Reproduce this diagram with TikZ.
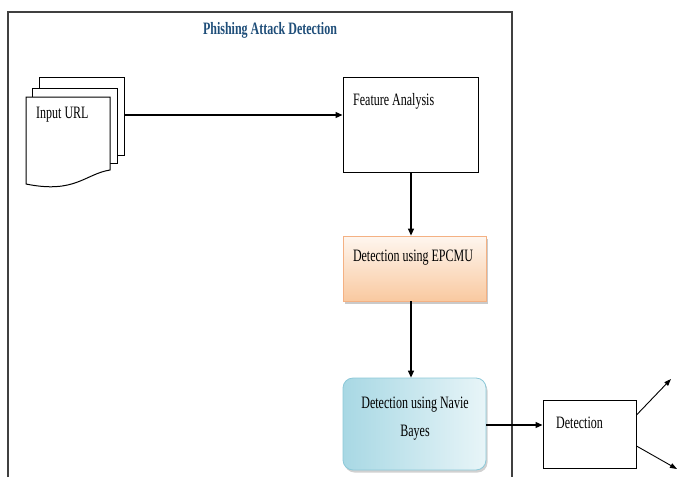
\documentclass[tikz,border=0pt]{standalone}
\usepackage{fontspec}
\setmainfont{Liberation Serif}
\usetikzlibrary{arrows.meta,shadows}
\definecolor{titleblue}{HTML}{1F4E79}
\definecolor{peachtop}{HTML}{FEF6EF}
\definecolor{peachbot}{HTML}{F9C9A0}
\definecolor{peachline}{HTML}{F4B183}
\definecolor{bluetop}{HTML}{E8F5F8}
\definecolor{bluebot}{HTML}{A8D8E4}
\definecolor{blueline}{HTML}{8CC8D8}
\newcommand{\tall}[1]{\scalebox{1}[1.45]{#1}}
\tikzset{
  plainbox/.style={draw=black, line width=1pt, fill=white, inner sep=0pt},
  arr/.style={-{Triangle[length=7pt,width=6pt]}, line width=1.2pt},
  thinarr/.style={-{Triangle[length=7pt,width=5pt]}, line width=0.9pt},
  txt/.style={font=\fontsize{12}{15}\selectfont, inner sep=0pt},
  docline/.style={draw=black, line width=1pt, fill=white}
}
\begin{document}
\begin{tikzpicture}[x=1pt,y=-1pt]
\useasboundingbox (0,0) rectangle (680,477);
% frame
\draw[line width=1.4pt, draw=black!75] (8,477) -- (8,12) -- (512,12) -- (512,477);
\node[txt, font=\fontsize{12}{14}\selectfont\bfseries, text=titleblue] (title) at (270,30) {\tall{Phishing Attack Detection}};
% document stack
\draw[docline] (39,88) -- (39,77) -- (124,77) -- (124,155) -- (117,155);
\draw[docline] (32,97) -- (32,88) -- (117,88) -- (117,163) -- (110,163);
\draw[docline] (26,97) -- (110,97) -- (110,170) .. controls (85,174) and (75,194) .. (26,184) -- cycle;
\coordinate (docR) at (124,115);
\node[txt, anchor=west] (inurl) at (36,115) {\tall{Input URL}};
% feature analysis
\node[plainbox, minimum width=135pt, minimum height=95pt] (feat) at (410.5,124.5) {};
\node[txt, anchor=west] (featt) at (353,101) {\tall{Feature Analysis}};
% EPCMU
\node[draw=peachline, line width=0.8pt, top color=peachtop, bottom color=peachbot,
      drop shadow={shadow xshift=1.5pt, shadow yshift=-2.5pt, fill=black!35, opacity=0.6},
      minimum width=143pt, minimum height=65pt, inner sep=0pt] (epc) at (414.5,268.5) {};
\node[txt] (epct) at (413,258) {\tall{Detection using EPCMU}};
% Navie Bayes
\node[draw=blueline, line width=0.8pt, rounded corners=10pt, shading=axis, shading angle=45,
      left color=bluebot, right color=bluetop,
      drop shadow={shadow xshift=1.5pt, shadow yshift=-2.5pt, fill=black!30, opacity=0.6},
      minimum width=143pt, minimum height=92pt, inner sep=0pt] (nb) at (414.5,424) {};
\node[txt] (nbt1) at (415,405) {\tall{Detection using Navie}};
\node[txt] (nbt2) at (415,433) {\tall{Bayes}};
% Detection
\node[plainbox, minimum width=93pt, minimum height=68pt] (det) at (589.5,434) {};
\node[txt, anchor=west] (dett) at (556,423) {\tall{Detection}};
% output ends
\coordinate (o1) at (671,379);
\coordinate (o2) at (677,469);
% connectors
\draw[arr] (docR) -- (feat.west |- docR);
\draw[arr] (feat.south -| 411,0) -- (epc.north -| 411,0);
\draw[arr] (epc.south -| 411,0) -- (nb.north -| 411,0);
\draw[arr] (nb.east |- 0,425) -- (det.west |- 0,425);
\draw[thinarr] (det.east |- 0,415) -- (o1);
\draw[thinarr] (det.east |- 0,446) -- (o2);
\end{tikzpicture}
\end{document}
